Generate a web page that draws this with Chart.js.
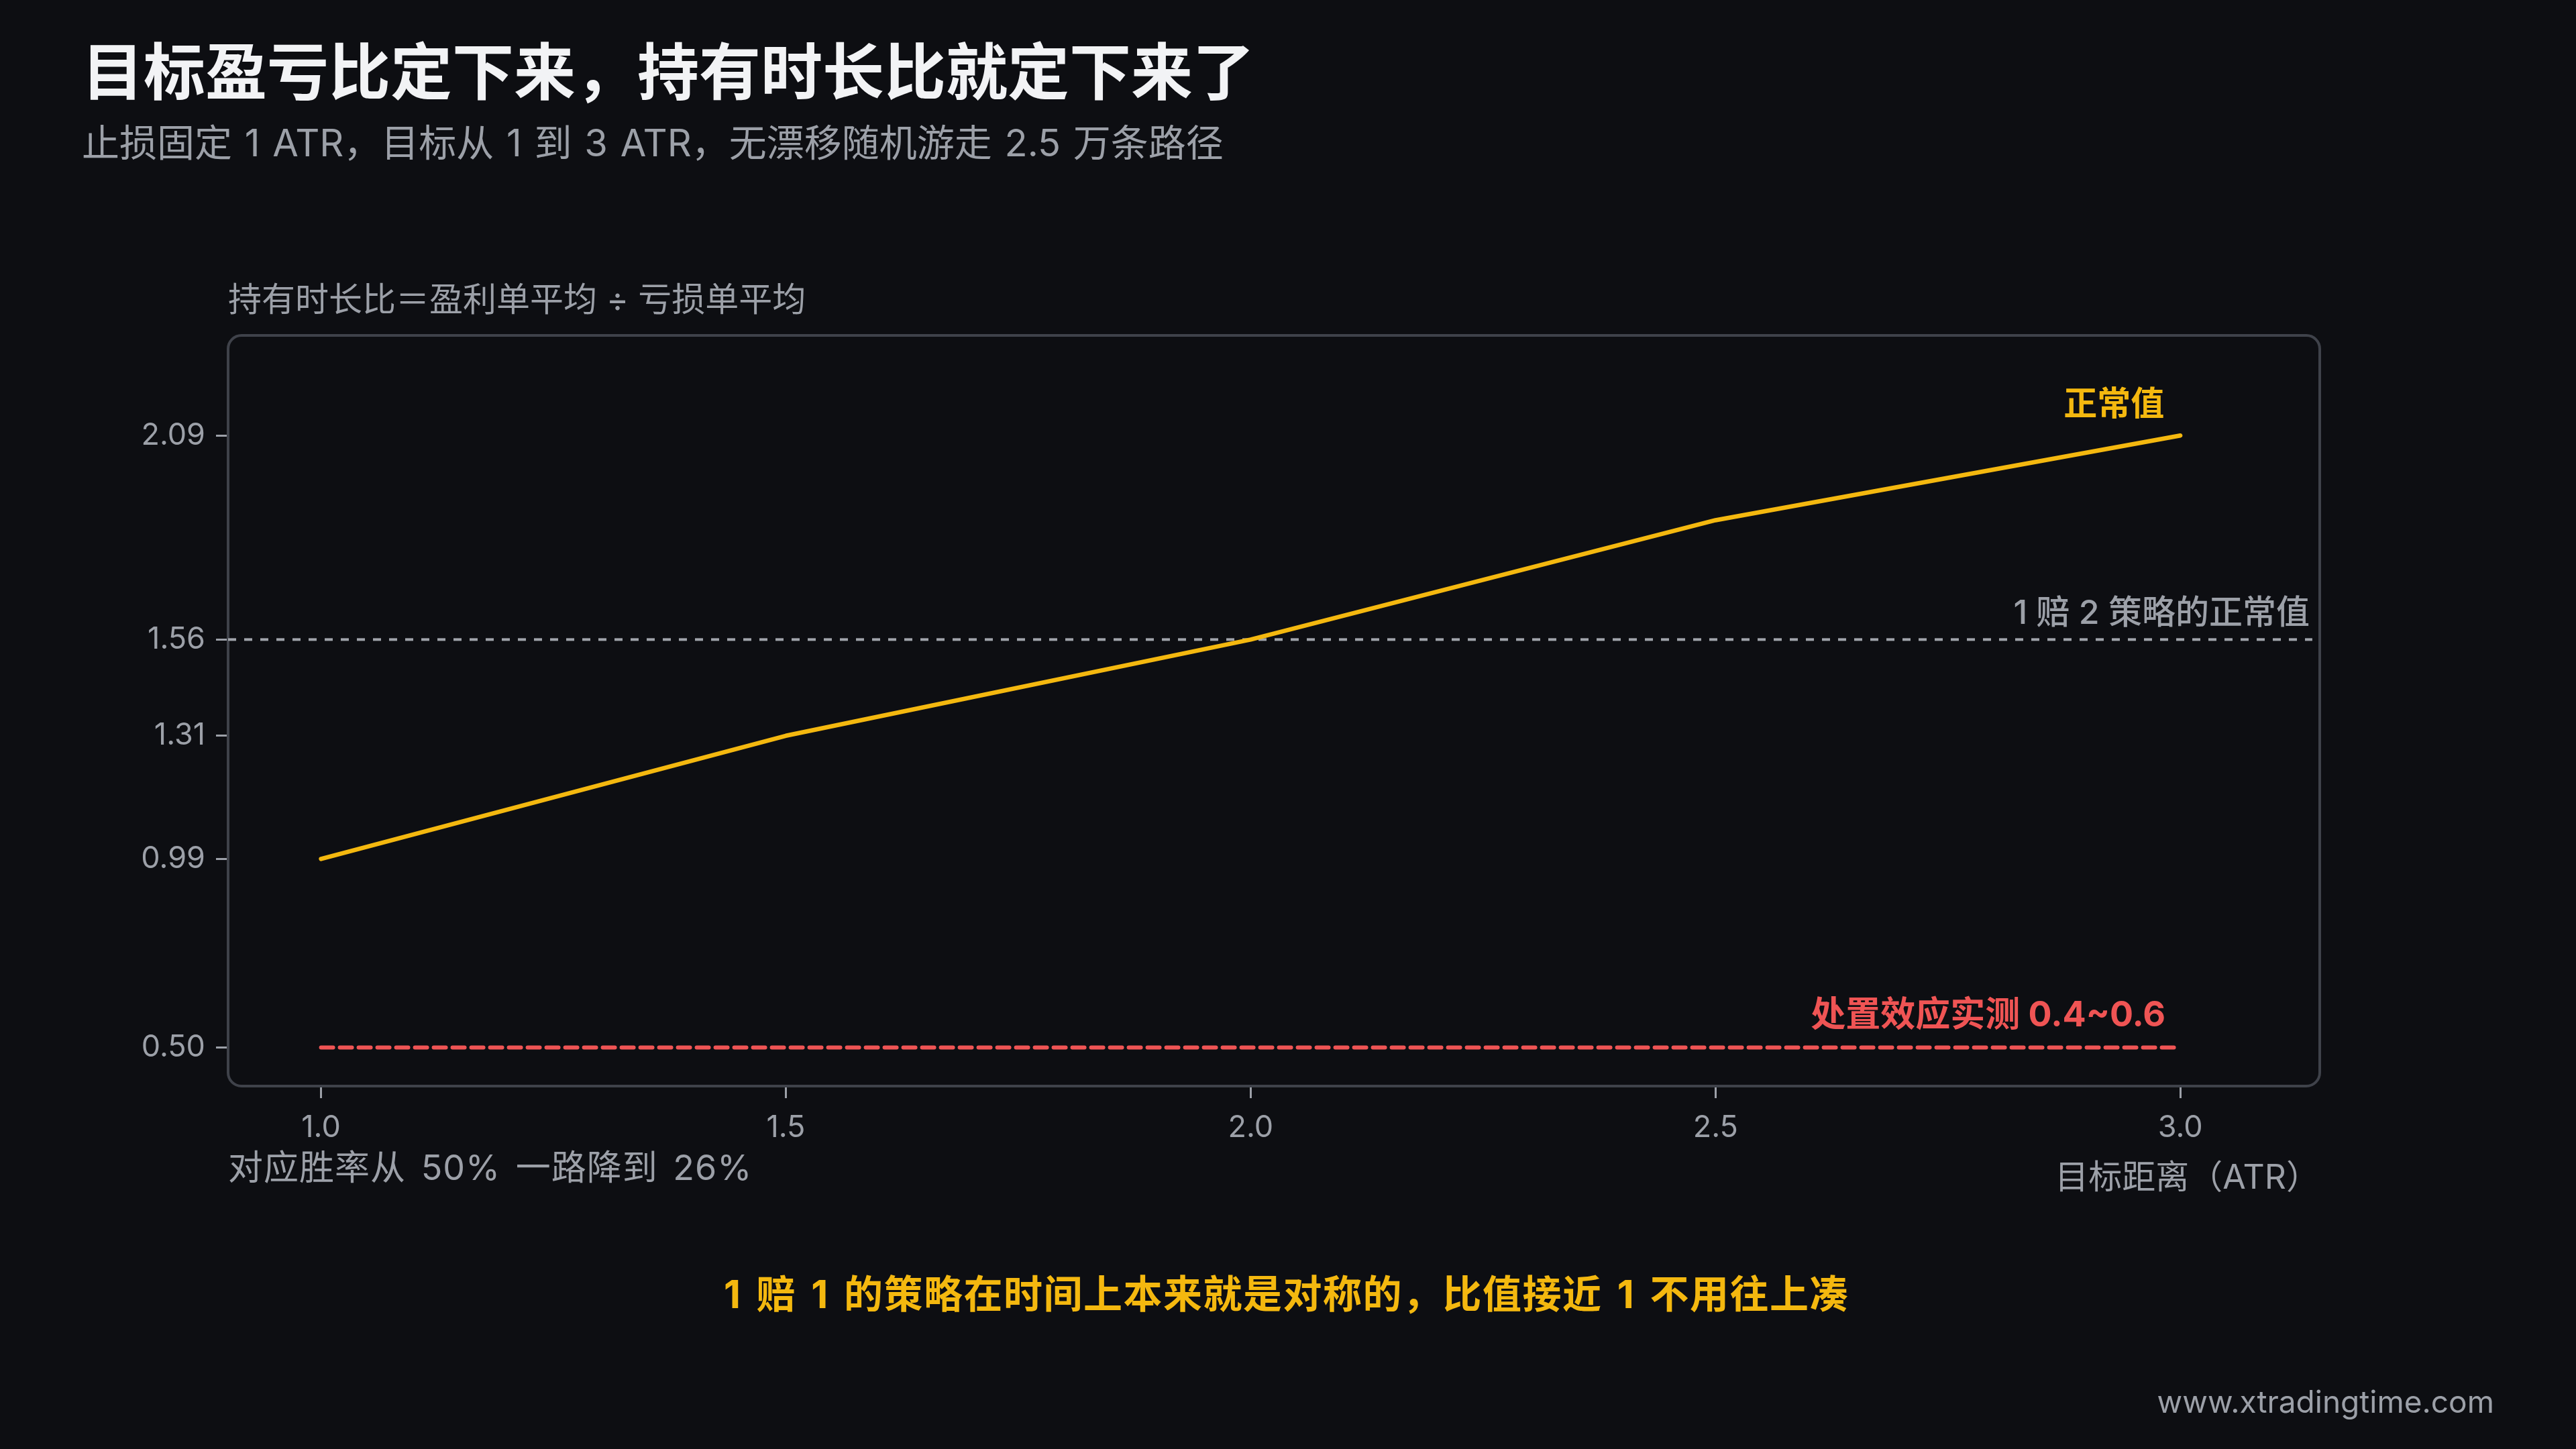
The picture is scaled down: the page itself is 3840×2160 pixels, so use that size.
<!DOCTYPE html>
<html>
<head>
<meta charset="utf-8">
<script src="https://cdn.jsdelivr.net/npm/chart.js@4.4.1/dist/chart.umd.min.js"></script>
<style>
  html, body { margin: 0; padding: 0; background: #0d0e12; }
  body { width: 3840px; height: 2160px; position: relative; overflow: hidden;
         font-family: Inter, "Noto Sans CJK SC", sans-serif; }
  canvas { position: absolute; left: 0; top: 0; }
  .txt { position: absolute; line-height: 1; white-space: nowrap; }
  #title { left: 122px; top: 62px; font-size: 92px; font-weight: 700; color: #f2f3f5; }
  #subtitle { left: 122px; top: 185px; font-size: 56px; word-spacing: 3px; color: #9ca0a8; }
  #ytitle { left: 340px; top: 421px; font-size: 50px; color: #9ca0a8; }
  #xnote { left: 340px; top: 1715px; font-size: 52px; word-spacing: 7px; letter-spacing: 1px; color: #9ca0a8; }
  #xtitle { right: 382px; top: 1729px; font-size: 50px; color: #9ca0a8; }
  #footnote { left: 0; width: 3836px; text-align: center; top: 1900px; font-size: 58px; font-weight: 700;
              letter-spacing: 1.5px; word-spacing: 7px; color: #f4b80f; }
  #site { right: 122px; top: 2066px; font-size: 46px; color: #9ca0a8; }
</style>
</head>
<body>
<canvas id="chart" width="3840" height="2160"></canvas>
<div class="txt" id="title">目标盈亏比定下来，持有时长比就定下来了</div>
<div class="txt" id="subtitle">止损固定 1 ATR，目标从 1 到 3 ATR，无漂移随机游走 2.5 万条路径</div>
<div class="txt" id="ytitle">持有时长比＝盈利单平均 ÷ 亏损单平均</div>
<div class="txt" id="xnote">对应胜率从 50% 一路降到 26%</div>
<div class="txt" id="xtitle">目标距离（ATR）</div>
<div class="txt" id="footnote">1 赔 1 的策略在时间上本来就是对称的，比值接近 1 不用往上凑</div>
<div class="txt" id="site">www.xtradingtime.com</div>
<script>
// target distance in ATR
const targets = [1.0, 1.5, 2.0, 2.5, 3.0];
// holding time ratio = avg winner duration / avg loser duration
const holdRatio = [0.99, 1.31, 1.56, 1.87, 2.09];
// 1:2 strategy normal value
const refLevel = 1.56;
// disposition effect measured (0.4~0.6)
const dispLevel = 0.50;
const xTicks = [1.0, 1.5, 2.0, 2.5, 3.0];
const yTicks = [0.50, 0.99, 1.31, 1.56, 2.09];
const xMin = 0.9, xMax = 3.15;
const yMin = 0.40, yMax = 2.35;

const FONT = 'Inter, "Noto Sans CJK SC", sans-serif';
const GREY = '#9ca0a8';
const YELLOW = '#f4b80f';
const RED = '#ef5454';

const framePlugin = {
    id: 'frame',
    beforeDatasetsDraw(chart) {
        const { ctx, chartArea: a } = chart;
        ctx.save();
        ctx.strokeStyle = '#3f424a';
        ctx.lineWidth = 4;
        ctx.beginPath();
        ctx.roundRect(a.left, a.top, a.right - a.left, a.bottom - a.top, 20);
        ctx.stroke();
        ctx.restore();
    }
};

const labelPlugin = {
    id: 'labels',
    afterDatasetsDraw(chart) {
        const { ctx, chartArea: a, scales: { x, y } } = chart;
        ctx.save();
        ctx.textAlign = 'right';
        ctx.textBaseline = 'middle';

        ctx.font = '700 50px ' + FONT;
        ctx.fillStyle = YELLOW;
        ctx.fillText('正常值', x.getPixelForValue(3.0) - 24, y.getPixelForValue(holdRatio[4]) - 45);

        ctx.font = '500 50px ' + FONT;
        ctx.fillStyle = GREY;
        ctx.fillText('1 赔 2 策略的正常值', a.right - 15, y.getPixelForValue(refLevel) - 38);

        ctx.font = '700 52px ' + FONT;
        ctx.fillStyle = RED;
        ctx.fillText('处置效应实测 0.4~0.6', x.getPixelForValue(3.0) - 22, y.getPixelForValue(dispLevel) - 47);
        ctx.restore();
    }
};

const ctx = document.getElementById('chart').getContext('2d');
new Chart(ctx, {
    type: 'line',
    data: {
        datasets: [
            {
                data: targets.map((t, i) => ({ x: t, y: holdRatio[i] })),
                borderColor: YELLOW,
                borderWidth: 6.5,
                borderCapStyle: 'round',
                borderJoinStyle: 'round',
                pointRadius: 0,
                tension: 0
            },
            {
                data: [{ x: xMin, y: refLevel }, { x: xMax - 0.008, y: refLevel }],
                borderColor: '#a0a4ab',
                borderWidth: 4,
                borderDash: [12, 12],
                pointRadius: 0
            },
            {
                data: [{ x: targets[0], y: dispLevel }, { x: targets[targets.length - 1], y: dispLevel }],
                borderColor: RED,
                borderWidth: 6,
                borderDash: [18, 10],
                borderCapStyle: 'round',
                pointRadius: 0
            }
        ]
    },
    options: {
        responsive: false,
        animation: false,
        devicePixelRatio: 1,
        layout: { padding: { left: 0, top: 500, right: 382, bottom: 391 } },
        plugins: { legend: { display: false }, tooltip: { enabled: false } },
        scales: {
            x: {
                type: 'linear',
                min: xMin,
                max: xMax,
                afterFit: (s) => { s.height = 150; },
                afterBuildTicks: (s) => { s.ticks = xTicks.map(v => ({ value: v })); },
                ticks: {
                    color: GREY,
                    font: { family: FONT, size: 45 },
                    padding: 17,
                    maxRotation: 0,
                    callback: (v) => Number(v).toFixed(1)
                },
                grid: { drawOnChartArea: false, drawTicks: true, tickLength: 18, color: GREY, lineWidth: 3 },
                border: { display: false }
            },
            y: {
                type: 'linear',
                min: yMin,
                max: yMax,
                afterFit: (s) => { s.width = 340; },
                afterBuildTicks: (s) => { s.ticks = yTicks.map(v => ({ value: v })); },
                ticks: {
                    color: GREY,
                    font: { family: FONT, size: 45 },
                    padding: 16,
                    callback: (v) => Number(v).toFixed(2)
                },
                grid: { drawOnChartArea: false, drawTicks: true, tickLength: 18, color: GREY, lineWidth: 3 },
                border: { display: false }
            }
        }
    },
    plugins: [framePlugin, labelPlugin]
});
</script>
</body>
</html>
